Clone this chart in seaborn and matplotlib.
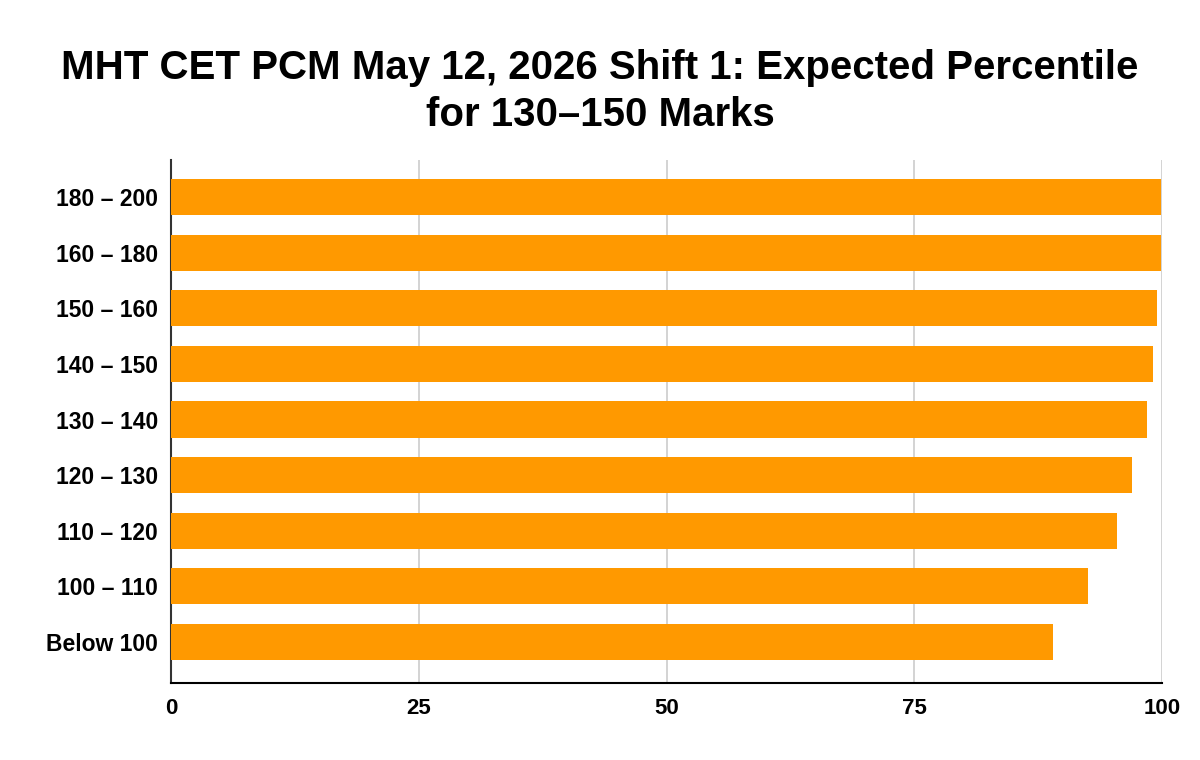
import matplotlib
matplotlib.use("Agg")
import matplotlib.pyplot as plt
import seaborn as sns
import pandas as pd

categories = ["180 – 200", "160 – 180", "150 – 160", "140 – 150", "130 – 140",
              "120 – 130", "110 – 120", "100 – 110", "Below 100"]
percentiles = [99.9, 99.9, 99.5, 99.1, 98.5, 97.0, 95.5, 92.5, 89.0]
x_ticks = [0, 25, 50, 75, 100]
title = "MHT CET PCM May 12, 2026 Shift 1: Expected Percentile\nfor 130–150 Marks"

sns.set_theme(style="white")
plt.rcParams['font.family'] = ['Liberation Sans', 'DejaVu Sans']
plt.rcParams['text.color'] = 'black'
plt.rcParams['xtick.color'] = 'black'
plt.rcParams['ytick.color'] = 'black'

df = pd.DataFrame({"Range": categories, "Percentile": percentiles})

fig = plt.figure(figsize=(12, 7.6), dpi=100)
ax = fig.add_axes([171/1200, 1 - 683/760, (1162-171)/1200, (683-160)/760])

sns.barplot(data=df, y="Range", x="Percentile", orient="h", color="#FF9900",
            saturation=1, width=0.65, ax=ax, zorder=3, linewidth=0)

ax.set_xlim(0, 100)
ax.set_ylim(len(categories) - 1 + 0.74, -0.67)
ax.set_xticks(x_ticks)
ax.set_xticklabels([str(t) for t in x_ticks], fontsize=16, fontweight="bold",
                   color="black")
ax.tick_params(axis="y", labelsize=16.5, length=0, pad=9.5, labelcolor="black")
ax.tick_params(axis="x", length=0, pad=11, labelcolor="black")
for lbl in ax.get_yticklabels():
    lbl.set_fontweight("bold")
ax.set_xlabel("")
ax.set_ylabel("")
ax.grid(axis="x", color="#cccccc", linewidth=1.2, zorder=0)
ax.set_axisbelow(True)
for s in ["top", "right"]:
    ax.spines[s].set_visible(False)
ax.spines["left"].set_color("#333333")
ax.spines["left"].set_linewidth(1.5)
ax.spines["bottom"].set_color("#000000")
ax.spines["bottom"].set_linewidth(1.5)

fig.suptitle(title, fontsize=29, fontweight="bold", x=0.5, y=0.935,
             linespacing=1.28, color="black")

fig.savefig("out.png", dpi=100)
